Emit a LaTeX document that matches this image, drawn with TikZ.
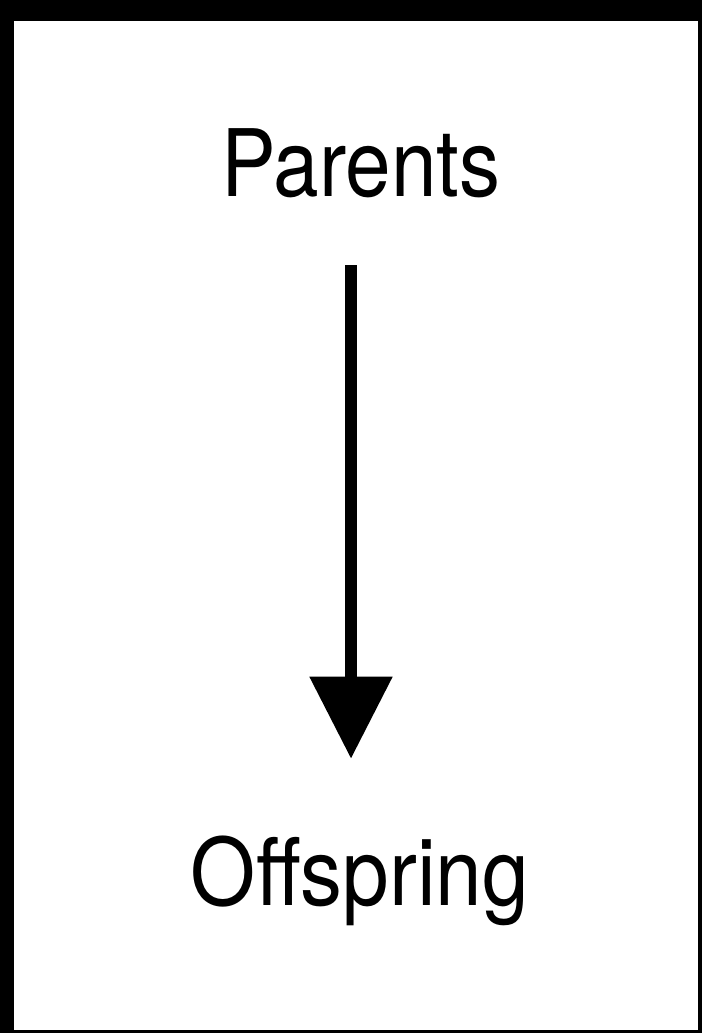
\documentclass[tikz,border=0pt]{standalone}
\usepackage{fontspec}
\setmainfont{TeX Gyre Heros}
\usepackage{tikz}
\usetikzlibrary{positioning,arrows.meta}
\tikzset{
  lbl/.style ={inner sep=0pt, anchor=base, font=\fontsize{26.5}{30}\selectfont},
  arr/.style ={-{Triangle[width=8mm,length=8.2mm]}, line width=1.2mm},
}
\begin{document}
\begin{tikzpicture}[x=0.1mm,y=-0.1mm]
  % frame
  \fill[black] (0,0) rectangle (702,1033);
  \fill[white] (14,21) rectangle (698,1030);
  \node[lbl] (par) at (361,197) {\scalebox{0.88}[1]{Parents}};
  \node[lbl] (off) at (360,905) {\scalebox{0.9}[1]{Offspring}};
  \coordinate (ax) at (351,0);
  \draw[arr, shorten <=6.6mm, shorten >=7.6mm] (par.south -| ax) -- (off.north -| ax);
\end{tikzpicture}
\end{document}
